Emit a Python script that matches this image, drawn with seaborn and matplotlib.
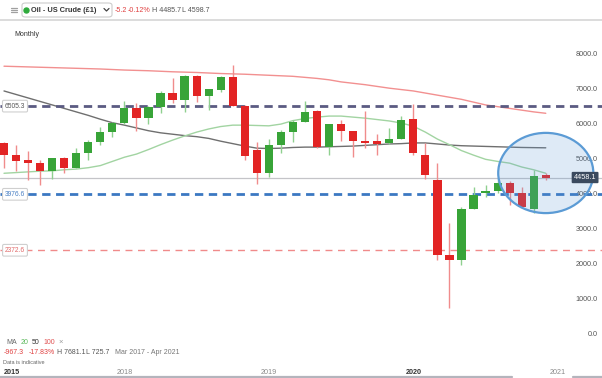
import numpy as np
import pandas as pd
import matplotlib
matplotlib.use("Agg")
import matplotlib.pyplot as plt
import seaborn as sns
from matplotlib.patches import Ellipse, FancyBboxPatch
from matplotlib.lines import Line2D

# ====================== data ======================
months = pd.date_range("2017-03-01", "2020-12-01", freq="MS")

opens = [5439, 5104, 4961, 4884, 4645, 5027, 4722, 5170, 5486, 5755,
         6013, 6460, 6156, 6489, 6873, 6681, 7369, 6796, 6968, 7350,
         6519, 5247, 4598, 5390, 5755, 6059, 6365, 5342, 5993, 5801,
         5505, 5457, 5457, 5554, 6127, 5104, 4387, 2237, 2093, 3547,
         4005, 4072, 4310, 4005, 3547, 4490]
highs = [5486, 5390, 5228, 4965, 5032, 5060, 5296, 5534, 5916, 6060,
         6661, 6604, 6520, 6948, 7303, 7400, 7398, 7000, 7380, 7681.1,
         6540, 5486, 5554, 5821, 6108, 6652, 6380, 5993, 6108, 5801,
         6365, 5697, 5869, 6222, 6557, 5439, 4884, 3163, 3604, 4178,
         4244, 4407, 4350, 4196, 4674, 4579]
lows = [4722, 4654, 4387, 4258, 4407, 4597, 4720, 4961, 5400, 5611,
        6000, 5801, 5993, 6317, 6586, 6346, 6633, 6394, 6900, 6509,
        4961, 4272, 4482, 5153, 5486, 6059, 5300, 5104, 5514, 5055,
        5296, 5104, 5419, 5554, 5104, 4407, 2093, 725.7, 1950, 3547,
        3891, 4005, 3670, 3575, 3432, 4400]
closes = [5104, 4941, 4884, 4645, 5027, 4722, 5170, 5486, 5755, 6013,
          6460, 6156, 6489, 6873, 6681, 7369, 6796, 6988, 7350, 6519,
          5075, 4598, 5390, 5755, 6059, 6346, 5342, 5993, 5801, 5514,
          5439, 5428, 5554, 6108, 5153, 4530, 2237, 2093, 3547, 3957,
          4072, 4310, 4005, 3604, 4502, 4458.1]

ma20 = [4580, 4600, 4620, 4640, 4650, 4680, 4700, 4740, 4800, 4920,
        5040, 5130, 5260, 5400, 5530, 5650, 5760, 5850, 5920, 5960,
        5960, 5950, 5940, 5990, 6090, 6150, 6190, 6220, 6220, 6190,
        6160, 6120, 6080, 6020, 5930, 5760, 5560, 5400, 5230, 5100,
        4980, 4920, 4870, 4760, 4680, 4580]
ma50 = [6940, 6840, 6740, 6640, 6540, 6440, 6340, 6240, 6130, 6030,
        5960, 5880, 5800, 5740, 5700, 5660, 5630, 5580, 5500, 5430,
        5360, 5300, 5290, 5300, 5320, 5330, 5330, 5340, 5350, 5360,
        5380, 5400, 5420, 5430, 5450, 5450, 5420, 5390, 5370, 5360,
        5350, 5340, 5330, 5320, 5315, 5310]
ma100 = [7650, 7640, 7630, 7620, 7610, 7600, 7590, 7580, 7570, 7555,
         7540, 7530, 7520, 7505, 7490, 7480, 7470, 7455, 7440, 7430,
         7420, 7405, 7390, 7375, 7360, 7330, 7300, 7260, 7200, 7160,
         7120, 7070, 7020, 6980, 6940, 6880, 6820, 6760, 6700, 6620,
         6540, 6490, 6440, 6390, 6340, 6300]

levels = [6505.3, 3976.6, 2372.6]
level_colors = ["#5b5b82", "#3b78c2", "#f08a8a"]
level_text = ["#555555", "#4a80c4", "#e06868"]

year_labels = ["2018", "2019", "2020", "2021"]
yticks = list(range(0, 8001, 1000))

# ====================== figure ======================
sns.set_theme(style="white")
plt.rcParams["font.family"] = ["Liberation Sans", "DejaVu Sans"]

W, H = 602, 378
fig = plt.figure(figsize=(W / 100, H / 100), dpi=100)
ax = fig.add_axes([0, 33 / H, 1, 300 / H])

def fpx(x, y):
    return x / W, 1 - y / H

idx = np.arange(len(months))
o = np.array(opens); c = np.array(closes)
up = c >= o
body_col = np.where(up, "#38a438", "#e22424")
wick_col = np.where(up, "#8fd08f", "#f08c8c")

# moving averages
sns.lineplot(x=idx, y=ma100, color="#f29090", lw=1.0, ax=ax, zorder=2)
sns.lineplot(x=idx, y=ma50, color="#6f6f6f", lw=1.0, ax=ax, zorder=2)
sns.lineplot(x=idx, y=ma20, color="#a2d4a2", lw=1.0, ax=ax, zorder=2)

# levels and current price line
for lv, lc in zip(levels, level_colors):
    dashed = dict(lw=2.0, dashes=(3, 2)) if lc != "#f08a8a" else dict(lw=1.0, dashes=(5, 4))
    ax.axhline(lv, color=lc, zorder=3, **dashed)
ax.axhline(closes[-1], color="#c4c4c8", lw=0.9, zorder=1)

# candles
ax.vlines(idx, lows, highs, colors=wick_col, lw=1.0, zorder=4)
heights = np.maximum(np.abs(c - o), 70)
ax.bar(idx, heights, bottom=np.minimum(o, c), width=0.68, color=body_col, zorder=5, linewidth=0)

# highlight ellipse round the latest candles
ax.add_patch(Ellipse((idx[-1], closes[-1] + 130), width=7.9, height=2300,
                     facecolor=(0.36, 0.6, 0.84, 0.2), edgecolor="#5b9bd5", lw=1.6, zorder=6))

ax.set_xlim(-0.332, 49.67)
ax.set_ylim(-344, 8258)
ax.set_xlabel(""); ax.set_ylabel("")
for s in ax.spines.values():
    s.set_visible(False)

# y ticks, drawn inside on the right
ax.yaxis.tick_right()
ax.set_yticks(yticks)
ax.set_yticklabels([f"{v:.1f}" for v in yticks])
ax.tick_params(axis="y", length=0, pad=-3, labelsize=5.2, labelcolor="#555555")
for t in ax.get_yticklabels():
    t.set_horizontalalignment("right")

# x ticks: January of each year
year_pos = [10 + 12 * k for k in range(len(year_labels))]
ax.set_xticks(year_pos)
ax.set_xticklabels(year_labels)
ax.tick_params(axis="x", length=0, pad=17, labelsize=5.2, labelcolor="#8a8a8a")
ax.get_xticklabels()[2].set_color("#333333")
ax.get_xticklabels()[2].set_fontweight("bold")

# level labels on the left
for lv, tc in zip(levels, level_text):
    ax.text(15 / 12.04 - 0.332, lv, f"{lv:.1f}", fontsize=4.8, color=tc, ha="center", va="center",
            zorder=8, bbox=dict(boxstyle="round,pad=0.35,rounding_size=0.2", fc="white", ec="#cfcfcf", lw=0.8))

# price tag
ax.text(49.2, closes[-1], f"{closes[-1]:.1f}", fontsize=5.2, color="white", ha="right", va="center",
        zorder=9, bbox=dict(boxstyle="round,pad=0.3,rounding_size=0.15", fc="#3b4a5e", ec="none"))

# ====================== header ======================
for yy in (7.5, 9.5, 11.5):
    fig.add_artist(Line2D([11 / W, 17 / W], [1 - yy / H] * 2, color="#a0a0a0", lw=0.9))
fig.add_artist(FancyBboxPatch(fpx(22, 17), 90 / W, 14 / H, boxstyle="round,pad=0,rounding_size=0.006",
                              transform=fig.transFigure, fc="white", ec="#cccccc", lw=0.8))
fig.add_artist(Line2D([26 / W], [1 - 10 / H], marker="o", ms=3.6, color="#2eaa3c", lw=0))
fig.text(*fpx(31, 10), "Oil - US Crude (£1)", fontsize=5.3, fontweight="bold", color="#333333", va="center")
fig.add_artist(Line2D([104 / W, 106.5 / W, 109 / W], [1 - 8.5 / H, 1 - 11 / H, 1 - 8.5 / H],
                      color="#444444", lw=0.9))
fig.text(*fpx(115, 10), "-5.2", fontsize=5.1, color="#e04040", va="center")
fig.text(*fpx(128, 10), "-0.12%", fontsize=5.1, color="#e04040", va="center")
fig.text(*fpx(152, 10), "H 4485.7", fontsize=5.1, color="#555555", va="center")
fig.text(*fpx(182, 10), "L 4598.7", fontsize=5.1, color="#555555", va="center")
fig.add_artist(Line2D([0, 1], [1 - 19.5 / H] * 2, color="#d6d6d6", lw=1.2))
fig.text(*fpx(14, 34), "Monthly", fontsize=5.0, color="#333333", va="center")

# ====================== footer ======================
fig.text(*fpx(6.5, 342.5), "MA", fontsize=5.0, color="#666666", va="center")
fig.text(*fpx(20.5, 342.5), "20", fontsize=5.0, color="#5cb85c", va="center")
fig.text(*fpx(31.5, 342.5), "50", fontsize=5.0, color="#333333", va="center")
fig.text(*fpx(43, 342.5), "100", fontsize=5.0, color="#e05050", va="center")
fig.text(*fpx(58, 342.5), "×", fontsize=5.5, color="#999999", va="center")
fig.text(*fpx(3.3, 353), "-967.3", fontsize=5.0, color="#e04040", va="center")
fig.text(*fpx(28.3, 353), "-17.83%", fontsize=5.0, color="#e04040", va="center")
fig.text(*fpx(56.7, 353), "H 7681.1", fontsize=5.0, color="#555555", va="center")
fig.text(*fpx(86, 353), "L 725.7", fontsize=5.0, color="#555555", va="center")
fig.text(*fpx(115, 353), "Mar 2017 - Apr 2021", fontsize=5.0, color="#777777", va="center")
fig.text(*fpx(3.3, 362.7), "Data is indicative", fontsize=4.0, color="#666666", va="center")
fig.text(*fpx(3.3, 372.3), "2015", fontsize=5.2, fontweight="bold", color="#333333", va="center")
fig.add_artist(Line2D([0, 512 / W], [1 - 376.8 / H] * 2, color="#b4b4bc", lw=1.6))
fig.add_artist(Line2D([573 / W, 1], [1 - 376.8 / H] * 2, color="#b4b4bc", lw=1.6))

fig.savefig("out.png", dpi=100)
